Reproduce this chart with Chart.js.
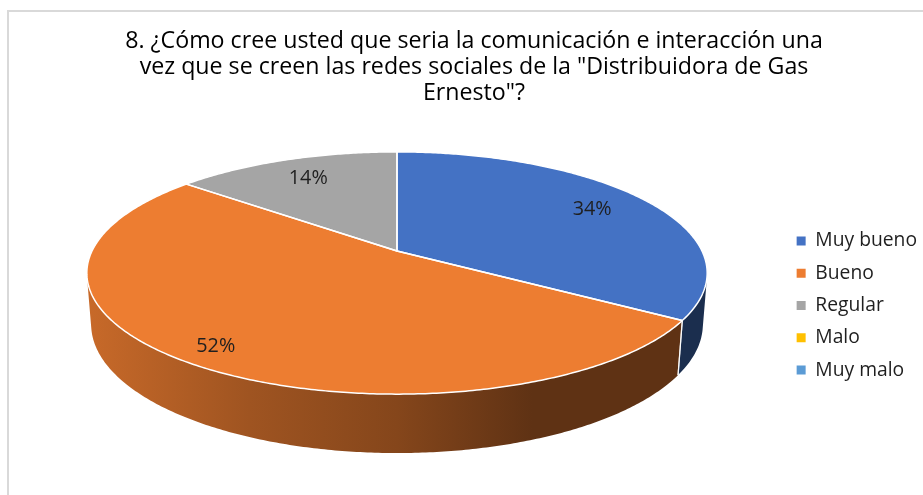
<!DOCTYPE html>
<html><head><meta charset="utf-8">
<script src="https://cdn.jsdelivr.net/npm/chart.js@4"></script>
<style>html,body{margin:0;padding:0;background:#fff;overflow:hidden}canvas{display:block}</style>
</head><body>
<canvas id="c" width="923" height="495"></canvas>
<script>
const titleLines = ['8. ¿Cómo cree usted que seria la comunicación e interacción una', 'vez que se creen las redes sociales de la "Distribuidora de Gas', 'Ernesto"?'];
const categories = ['Muy bueno', 'Bueno', 'Regular', 'Malo', 'Muy malo'];
const values = [34, 52, 14, 0, 0];
const valueLabels = ['34%', '52%', '14%', '0%', '0%'];
const colors = ['#4472C4', '#ED7D31', '#A5A5A5', '#FFC000', '#5B9BD5'];

const FONT = '"Open Sans", "Noto Sans", sans-serif';
function fitSize(text, target) {
  const ctx = document.createElement('canvas').getContext('2d');
  ctx.font = '100px ' + FONT;
  return Math.round(1000 * target / ctx.measureText(text).width) / 10;
}
const titleSize = fitSize(titleLines[0], 697);
const legendSize = fitSize('Muy bueno', 102);
const labelSize = fitSize('52%', 39);

// perspective projection of a tilted disc (style constants)
const PROJ = {X0: 397, Y0: 251, D: 5.08, s: 0.384, c: 0.9233, F: 1549.4, depth: 0.181};
function proj(t, r, h) {
  const u = r * Math.cos(t), v = r * Math.sin(t);
  const yc = v * PROJ.s + h * PROJ.c, zc = PROJ.D - v * PROJ.c + h * PROJ.s;
  return [PROJ.X0 + PROJ.F * u / zc, PROJ.Y0 + PROJ.F * yc / zc];
}
function hexRgb(h) { const n = parseInt(h.slice(1), 16); return [(n >> 16) & 255, (n >> 8) & 255, n & 255]; }
function shade(h, f) { const [r, g, b] = hexRgb(h); return `rgb(${Math.round(r*f)},${Math.round(g*f)},${Math.round(b*f)})`; }
const SHADE_STOPS = [[0, 0.84], [0.26, 0.67], [0.5, 0.56], [0.72, 0.40], [1, 0.40]];
const LABEL_R = [0.78, 0.88, 0.77, 0.8, 0.8];

const frame = {
  id: 'frame',
  beforeDraw(chart) {
    const ctx = chart.ctx;
    ctx.save();
    ctx.fillStyle = '#fff';
    ctx.fillRect(0, 0, chart.width, chart.height);
    ctx.strokeStyle = '#D9D9D9';
    ctx.lineWidth = 2;
    ctx.beginPath();
    ctx.moveTo(chart.width + 2, 11);
    ctx.lineTo(8, 11);
    ctx.lineTo(8, chart.height + 2);
    ctx.stroke();
    ctx.restore();
  }
};

const legendShift = {
  id: 'legendShift',
  afterLayout(chart) {
    const l = chart.legend;
    l.top += 58; l.bottom += 58; l.left += 4; l.right += 4;
  }
};

const pie3d = {
  id: 'pie3d',
  beforeDatasetsDraw(chart) {
    const ctx = chart.ctx;
    const meta = chart.getDatasetMeta(0);
    const arcs = meta.data;
    const tA = Math.asin(1 / (PROJ.D * PROJ.c)), tB = Math.PI - tA;
    const L = proj(Math.PI, 1, 0)[0] - 2, R = proj(0, 1, 0)[0] + 2;
    ctx.save();
    // side walls
    arcs.forEach((arc, i) => {
      if (!values[i]) return;
      const a = Math.max(arc.startAngle, tA), b = Math.min(arc.endAngle, tB);
      if (b <= a) return;
      const g = ctx.createLinearGradient(L, 0, R, 0);
      SHADE_STOPS.forEach(([p, f]) => g.addColorStop(p, shade(colors[i], f)));
      ctx.beginPath();
      const n = Math.max(2, Math.ceil((b - a) / 0.01));
      for (let k = 0; k <= n; k++) { const p = proj(a + (b - a) * k / n, 1, 0); k ? ctx.lineTo(p[0], p[1]) : ctx.moveTo(p[0], p[1]); }
      for (let k = n; k >= 0; k--) { const p = proj(a + (b - a) * k / n, 1, PROJ.depth); ctx.lineTo(p[0], p[1]); }
      ctx.closePath();
      ctx.fillStyle = g;
      ctx.fill();
    });
    // wall separators
    ctx.strokeStyle = 'rgba(255,255,255,0.85)';
    ctx.lineWidth = 1.2;
    arcs.forEach((arc, i) => {
      if (!values[i]) return;
      [arc.startAngle, arc.endAngle].forEach(t => {
        if (t > tA && t < tB) {
          const p = proj(t, 1, 0), q = proj(t, 1, PROJ.depth);
          ctx.beginPath(); ctx.moveTo(p[0], p[1]); ctx.lineTo(q[0], q[1]); ctx.stroke();
        }
      });
    });
    // top faces
    ctx.lineJoin = 'round';
    const topPath = (arc) => {
      const a = arc.startAngle, b = arc.endAngle;
      ctx.beginPath();
      const c0 = proj(0, 0, 0);
      ctx.moveTo(c0[0], c0[1]);
      const n = Math.max(2, Math.ceil((b - a) / 0.01));
      for (let k = 0; k <= n; k++) { const p = proj(a + (b - a) * k / n, 1, 0); ctx.lineTo(p[0], p[1]); }
      ctx.closePath();
    };
    arcs.forEach((arc, i) => {
      if (!values[i]) return;
      topPath(arc);
      ctx.fillStyle = colors[i];
      ctx.fill();
    });
    ctx.strokeStyle = '#FFFFFF';
    ctx.lineWidth = 1.5;
    arcs.forEach((arc, i) => {
      if (!values[i]) return;
      topPath(arc);
      ctx.stroke();
    });
    // data labels
    ctx.fillStyle = '#1f1f1f';
    ctx.font = labelSize + 'px ' + FONT;
    ctx.textAlign = 'center';
    ctx.textBaseline = 'middle';
    arcs.forEach((arc, i) => {
      if (!values[i]) return;
      const m = (arc.startAngle + arc.endAngle) / 2;
      const p = proj(m, LABEL_R[i], 0);
      ctx.fillText(valueLabels[i], p[0], p[1]);
    });
    ctx.restore();
    return false;
  }
};

new Chart(document.getElementById('c'), {
  type: 'pie',
  data: {
    labels: categories,
    datasets: [{data: values, backgroundColor: colors, borderWidth: 0}]
  },
  options: {
    responsive: false,
    animation: false,
    devicePixelRatio: 1,
    layout: {padding: {left: 25, right: 0, top: 0, bottom: 0}},
    plugins: {
      title: {
        display: true, text: titleLines, color: '#000000',
        font: {family: FONT, size: titleSize, weight: 'normal', lineHeight: 26.3 / titleSize},
        padding: {top: 28, bottom: 10}
      },
      legend: {
        position: 'right',
        labels: {boxWidth: 9, boxHeight: 9, padding: 13, color: '#1f1f1f', font: {family: FONT, size: legendSize}}
      },
      tooltip: {enabled: false}
    }
  },
  plugins: [frame, legendShift, pie3d]
});
</script>
</body></html>
